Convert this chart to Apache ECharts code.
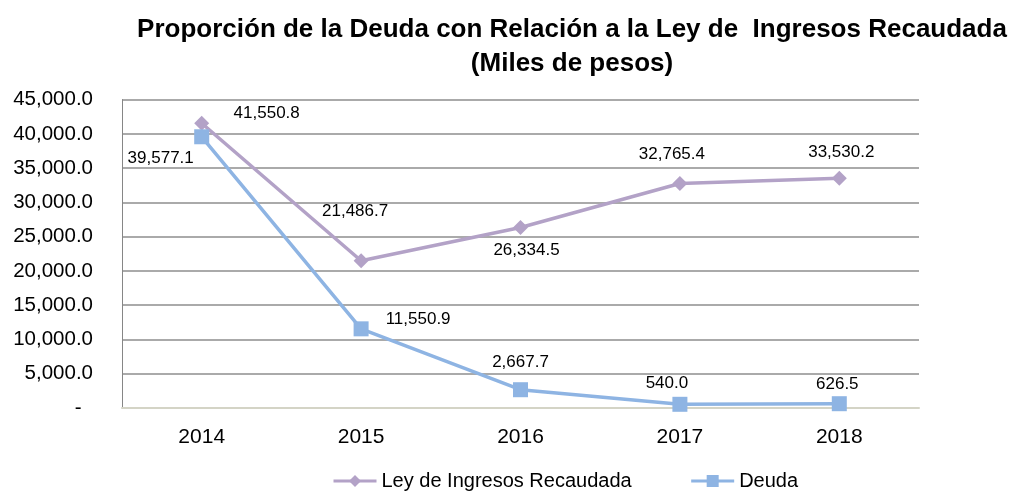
<!DOCTYPE html>
<html>
<head>
<meta charset="utf-8">
<script src="https://cdn.jsdelivr.net/npm/echarts@6/dist/echarts.min.js"></script>
<style>
  html, body { margin: 0; padding: 0; background: #fff; }
  #main { width: 1010px; height: 492px; }
</style>
</head>
<body>
<div id="main"></div>
<script>
// datos
var years = ["2014", "2015", "2016", "2017", "2018"];
var leyIngresos = [41550.8, 21486.7, 26334.5, 32765.4, 33530.2];
var deuda = [39577.1, 11550.9, 2667.7, 540.0, 626.5];

// desplazamiento de etiquetas respecto al marcador
var leyOffsets = [[65, -10], [-6, -49], [6, 23], [-8, -29], [2, -26]];
var deudaOffsets = [[-41, 22], [57, -10], [0, -27], [-13, -21], [-2, -19]];

var fontFam = "Liberation Sans, Arial, sans-serif";

function fmt(v) {
  var s = v.toFixed(1).split(".");
  s[0] = s[0].replace(/\B(?=(\d{3})+(?!\d))/g, ",");
  return s.join(".");
}

function buildData(values, offsets) {
  return values.map(function (v, i) {
    return { value: v, label: { offset: offsets[i] } };
  });
}

var chart = echarts.init(document.getElementById("main"));
chart.setOption({
  animation: false,
  title: {
    text: "Proporción de la Deuda con Relación a la Ley de  Ingresos Recaudada\n(Miles de pesos)",
    left: 567,
    top: 8,
    textAlign: "center",
    textStyle: {
      fontFamily: fontFam,
      fontSize: 26,
      fontWeight: "bold",
      color: "#000",
      lineHeight: 34
    }
  },
  grid: {
    left: 122,
    right: 91,
    top: 99.6,
    bottom: 84
  },
  legend: {
    left: 332,
    top: 471,
    padding: 0,
    itemWidth: 43,
    itemHeight: 15,
    itemGap: 58,
    lineStyle: { width: 3 },
    textStyle: { fontFamily: fontFam, fontSize: 20, color: "#000" },
    data: ["Ley de Ingresos Recaudada", "Deuda"]
  },
  xAxis: {
    type: "category",
    data: years,
    boundaryGap: true,
    axisLine: { lineStyle: { color: "#d4d4c6", width: 2 } },
    axisTick: { show: false },
    axisLabel: { fontFamily: fontFam, fontSize: 21, color: "#000", margin: 19 }
  },
  yAxis: {
    type: "value",
    min: 0,
    max: 45000,
    interval: 5000,
    axisLine: { show: true, lineStyle: { color: "#868686", width: 1 } },
    axisTick: { show: false },
    splitLine: { lineStyle: { color: "#8e8e8e", width: 1.5 } },
    axisLabel: {
      fontFamily: fontFam,
      fontSize: 20.5,
      color: "#000",
      margin: 29,
      formatter: function (v) {
        return v === 0 ? "-  " : fmt(v);
      }
    }
  },
  series: [
    {
      name: "Ley de Ingresos Recaudada",
      type: "line",
      data: buildData(leyIngresos, leyOffsets),
      symbol: "diamond",
      symbolSize: 15,
      color: "#b3a2c7",
      lineStyle: { width: 3.5, color: "#b3a2c7" },
      itemStyle: { color: "#b3a2c7" },
      label: {
        show: true,
        position: "inside",
        fontFamily: fontFam,
        fontSize: 17,
        color: "#000",
        formatter: function (p) { return fmt(p.value); }
      }
    },
    {
      name: "Deuda",
      type: "line",
      data: buildData(deuda, deudaOffsets),
      symbol: "rect",
      symbolSize: 15,
      color: "#8eb4e3",
      lineStyle: { width: 3.5, color: "#8eb4e3" },
      itemStyle: { color: "#8eb4e3" },
      label: {
        show: true,
        position: "inside",
        fontFamily: fontFam,
        fontSize: 17,
        color: "#000",
        formatter: function (p) { return fmt(p.value); }
      }
    }
  ]
});
</script>
</body>
</html>
